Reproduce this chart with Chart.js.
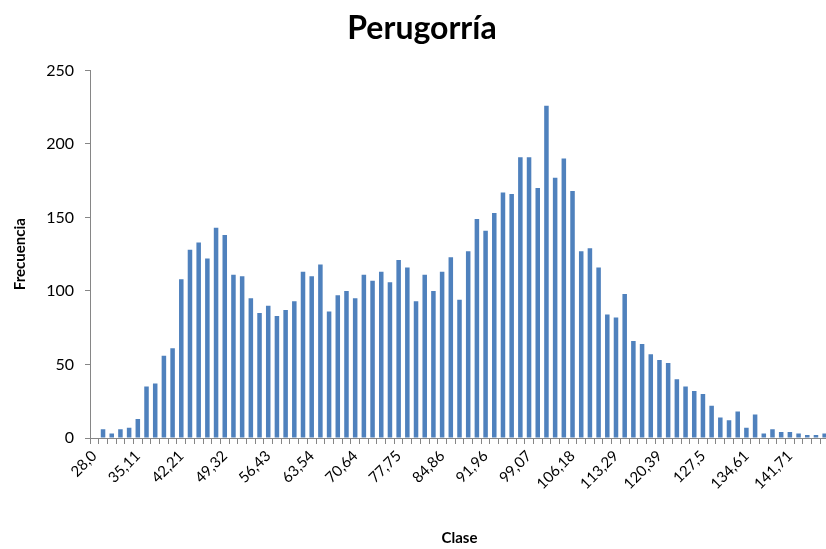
<!DOCTYPE html>
<html>
<head>
<meta charset="utf-8">
<script src="https://cdn.jsdelivr.net/npm/chart.js@4/dist/chart.umd.min.js"></script>
<style>
  body { margin: 0; overflow: hidden; background: #fff; }
</style>
</head>
<body>
<canvas id="chart" width="844" height="549"></canvas>
<script>
// bin start values (clase)
const clases = ['28,0', '29,42', '30,84', '32,26', '33,69', '35,11', '36,53', '37,95', '39,37', '40,79',
    '42,21', '43,64', '45,06', '46,48', '47,9', '49,32', '50,74', '52,16', '53,59', '55,01',
    '56,43', '57,85', '59,27', '60,69', '62,11', '63,54', '64,96', '66,38', '67,8', '69,22',
    '70,64', '72,06', '73,49', '74,91', '76,33', '77,75', '79,17', '80,59', '82,01', '83,44',
    '84,86', '86,28', '87,7', '89,12', '90,54', '91,96', '93,39', '94,81', '96,23', '97,65',
    '99,07', '100,49', '101,91', '103,34', '104,76', '106,18', '107,6', '109,02', '110,44', '111,86',
    '113,29', '114,71', '116,13', '117,55', '118,97', '120,39', '121,81', '123,24', '124,66', '126,08',
    '127,5', '128,92', '130,34', '131,76', '133,19', '134,61', '136,03', '137,45', '138,87', '140,29',
    '141,71', '143,14', '144,56', '145,98', '147,4'];

const frecuencia = [0, 6, 3, 6, 7, 13, 35, 37, 56, 61,
    108, 128, 133, 122, 143, 138, 111, 110, 95, 85,
    90, 83, 87, 93, 113, 110, 118, 86, 97, 100,
    95, 111, 107, 113, 106, 121, 116, 93, 111, 100,
    113, 123, 94, 127, 149, 141, 153, 167, 166, 191,
    191, 170, 226, 177, 190, 168, 127, 129, 116, 84,
    82, 98, 66, 64, 57, 53, 51, 40, 35, 32,
    30, 22, 14, 12, 18, 7, 16, 3, 6, 4,
    4, 3, 2, 2, 3];

const labelStep = 5;
const fontName = "Lato, 'Open Sans', sans-serif";
const axisGray = '#868686';

new Chart(document.getElementById('chart'), {
    type: 'bar',
    data: {
        labels: clases,
        datasets: [{
            data: frecuencia,
            backgroundColor: '#4f81bd',
            borderWidth: 0,
            barPercentage: 0.52,
            categoryPercentage: 1.0
        }]
    },
    options: {
        responsive: false,
        animation: false,
        layout: { padding: { left: 0, right: 0, top: 0, bottom: 0 } },
        plugins: {
            legend: { display: false },
            tooltip: { enabled: false },
            title: {
                display: true,
                text: 'Perugorría',
                color: '#000',
                font: { family: fontName, size: 32, weight: 'bold' },
                padding: { top: 9, bottom: 23 }
            }
        },
        scales: {
            x: {
                afterFit: function (scale) {
                    scale.height = 111;
                    scale.paddingRight = 15;
                },
                border: { color: axisGray, width: 1 },
                grid: { display: true, drawOnChartArea: false, drawTicks: true, tickLength: 6, color: axisGray, offset: true },
                ticks: {
                    autoSkip: false,
                    maxRotation: 45,
                    minRotation: 45,
                    color: '#000',
                    font: { family: fontName, size: 15 },
                    callback: function (value, index) {
                        return index % labelStep === 0 ? this.getLabelForValue(value) : '';
                    }
                },
                title: {
                    display: true,
                    text: 'Clase',
                    color: '#000',
                    font: { family: fontName, size: 15, weight: 'bold' },
                    padding: { top: 0, bottom: 2 }
                }
            },
            y: {
                min: 0,
                max: 250,
                afterFit: function (scale) { scale.width = 90; },
                border: { color: axisGray, width: 1 },
                grid: { display: true, drawOnChartArea: false, drawTicks: true, tickLength: 5, color: axisGray },
                ticks: {
                    stepSize: 50,
                    color: '#000',
                    padding: 11,
                    font: { family: fontName, size: 16 }
                },
                title: {
                    display: true,
                    text: 'Frecuencia',
                    color: '#000',
                    font: { family: fontName, size: 15, weight: 'bold' },
                    padding: { top: 11, bottom: 0 }
                }
            }
        }
    }
});
</script>
</body>
</html>
